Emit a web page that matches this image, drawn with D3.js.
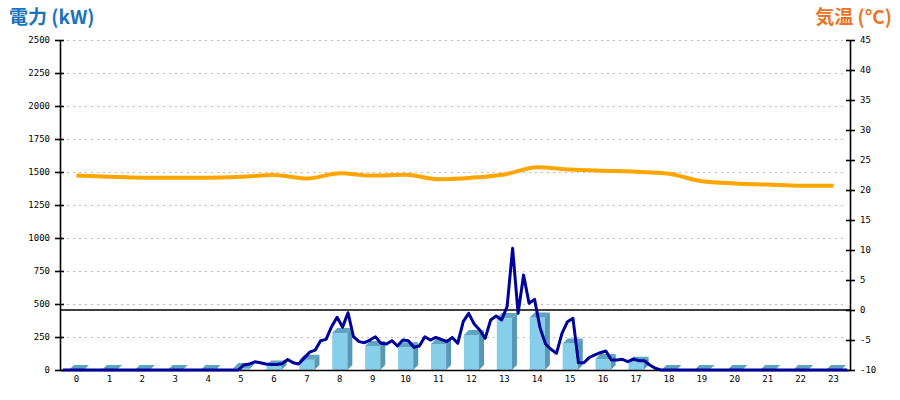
<!DOCTYPE html>
<html>
<head>
<meta charset="utf-8">
<script src="https://cdn.jsdelivr.net/npm/d3@7"></script>
<style>
  html, body { margin: 0; padding: 0; background: #ffffff; }
  svg { display: block; }
  .tick text { font-family: "DejaVu Sans Mono", "Liberation Mono", monospace; font-size: 9px; fill: #000; }
</style>
</head>
<body>
<svg id="chart" width="900" height="400"></svg>
<script>
// ---- data ----
const hours = ["0","1","2","3","4","5","6","7","8","9","10","11","12","13","14","15","16","17","18","19","20","21","22","23"];
// hourly power (kW), bars
const hourlyKW = [0,0,0,0,0,15,35,78,280,182,172,197,265,393,398,200,83,63,0,0,0,0,0,0];
// 10-minute power (kW), line (144 points, 12 per row = 2 hours)
const powerKW = [
  0,0,0,0,0,0, 0,0,0,0,0,0,
  0,0,0,0,0,0, 0,0,0,0,0,0,
  0,0,0,0,0,0, 0,0,0,38,45,62,
  55,45,42,42,48,80, 55,45,90,135,150,222,
  232,328,400,325,434,252, 215,207,227,252,202,197,
  222,182,227,222,172,182, 252,227,247,232,215,247,
  202,366,429,348,303,240, 379,409,379,480,922,429,
  720,505,535,320,197,157, 126,278,366,391,55,55,
  96,114,131,144,76,76, 81,63,83,71,71,38,
  13,0,0,0,0,0, 0,0,0,0,0,0,
  0,0,0,0,0,0, 0,0,0,0,0,0,
  0,0,0,0,0,0, 0,0,0,0,0,0
];
// hourly temperature (°C)
const tempC = [22.4,22.2,22.05,22.05,22.05,22.2,22.5,21.9,22.8,22.4,22.55,21.8,22.05,22.6,23.8,23.4,23.2,23.05,22.7,21.45,21.1,20.9,20.7,20.7];
const leftTicks = [0,250,500,750,1000,1250,1500,1750,2000,2250,2500];
const rightTicks = [-10,-5,0,5,10,15,20,25,30,35,40,45];
const leftTitle = "電力 (kW)";
const rightTitle = "気温 (°C)";

// ---- layout ----
const L = 60, R = 850, T = 40, B = 370;
const svg = d3.select("#chart");

const x = d3.scaleBand().domain(hours).range([L, R]).padding(0);
const xm = d3.scaleBand().domain(powerKW.map((d, i) => i)).range([L, R]).padding(0);
const yL = d3.scaleLinear().domain([0, 2500]).range([B, T]);
const yR = d3.scaleLinear().domain([-10, 45]).range([B, T]);

// gridlines
svg.append("g").selectAll("line")
  .data(leftTicks.filter(d => d > 0))
  .join("line")
  .attr("x1", L + 7).attr("x2", R - 4)
  .attr("y1", d => yL(d)).attr("y2", d => yL(d))
  .attr("stroke", "#bdbdbd").attr("stroke-width", 1)
  .attr("stroke-dasharray", "2,4")
  .attr("shape-rendering", "crispEdges");

// 0 °C line
svg.append("line")
  .attr("x1", L).attr("x2", R)
  .attr("y1", yR(0)).attr("y2", yR(0))
  .attr("stroke", "#000").attr("stroke-width", 1.3);

// 3D bars
const bw = x.bandwidth();
const fw = bw * 0.46;
const dep = 5;
const bars = svg.append("g");
hourlyKW.forEach((v, i) => {
  const cx = x(hours[i]) + bw / 2;
  const x0 = cx - fw / 2, x1 = cx + fw / 2;
  const yt = yL(v), yb = yL(0);
  if (v > 0) {
    bars.append("rect").attr("x", x0).attr("y", yt).attr("width", fw).attr("height", yb - yt)
      .attr("fill", "#87ceeb");
    bars.append("path")
      .attr("d", `M${x1},${yt}L${x1 + dep},${yt - dep}L${x1 + dep},${yb - dep}L${x1},${yb}Z`)
      .attr("fill", "#5599b5");
  }
  bars.append("path")
    .attr("d", `M${x0},${yt}L${x0 + dep},${yt - dep}L${x1 + dep},${yt - dep}L${x1},${yt}Z`)
    .attr("fill", "#5ea3bf");
});

// axes
const axL = svg.append("g").attr("transform", `translate(${L},0)`)
  .call(d3.axisLeft(yL).tickValues(leftTicks).tickSize(5).tickSizeOuter(0).tickPadding(5)
    .tickFormat(d3.format("d")));
axL.selectAll(".tick line").attr("x1", 4);
const axR = svg.append("g").attr("transform", `translate(${R},0)`)
  .call(d3.axisRight(yR).tickValues(rightTicks).tickSize(5).tickSizeOuter(0).tickPadding(5)
    .tickFormat(d => String(d)));
axR.selectAll(".tick line").attr("x1", -4);
const axB = svg.append("g").attr("transform", `translate(0,${B})`)
  .call(d3.axisBottom(x).tickSize(0).tickPadding(6));
[axL, axR, axB].forEach(g => {
  g.select(".domain").attr("stroke", "#000").attr("stroke-width", 1.6);
  g.selectAll(".tick line").attr("stroke", "#000").attr("stroke-width", 1.6);
  g.selectAll(".tick text").attr("fill", "#000");
});

// power line
svg.append("path")
  .datum(powerKW)
  .attr("fill", "none")
  .attr("stroke", "#00009a")
  .attr("stroke-width", 3)
  .attr("stroke-linejoin", "round")
  .attr("d", d3.line()
    .x((d, i) => xm(i) + xm.bandwidth() / 2)
    .y(d => yL(d)));

// temperature line
svg.append("path")
  .datum(tempC)
  .attr("fill", "none")
  .attr("stroke", "#ffa500")
  .attr("stroke-width", 4)
  .attr("d", d3.line()
    .curve(d3.curveMonotoneX)
    .x((d, i) => x(hours[i]) + bw / 2)
    .y(d => yR(d)));

// titles
svg.append("text")
  .attr("x", 9).attr("y", 24)
  .attr("font-family", "'Noto Sans CJK JP', 'Noto Sans', sans-serif")
  .attr("font-weight", "bold").attr("font-size", 19)
  .attr("fill", "#1a72be")
  .text(leftTitle);
svg.append("text")
  .attr("x", 892).attr("y", 24).attr("text-anchor", "end")
  .attr("font-family", "'Noto Sans CJK JP', 'Noto Sans', sans-serif")
  .attr("font-weight", "bold").attr("font-size", 19)
  .attr("fill", "#ec7426")
  .text(rightTitle);
</script>
</body>
</html>
